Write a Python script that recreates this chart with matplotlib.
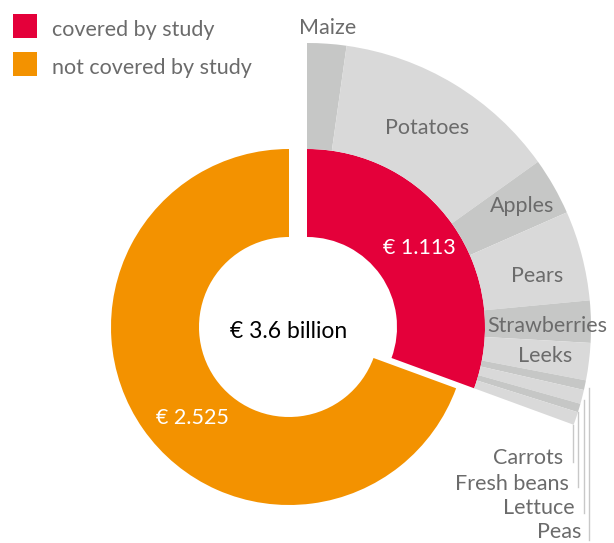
import matplotlib
matplotlib.use("Agg")
import matplotlib.pyplot as plt

plt.rcParams['font.family'] = ['Lato', 'DejaVu Sans']

# values in € million
segments = ['covered by study', 'not covered by study']
segment_values = [1113, 2525]
total_label = '€ 3.6 billion'

crops = ['Maize', 'Potatoes', 'Apples', 'Pears', 'Strawberries', 'Leeks',
         'Carrots', 'Fresh beans', 'Lettuce', 'Peas']
crop_values = [81, 469, 119, 186, 87, 77, 20, 29, 18, 27]

RED = '#E4003A'
ORANGE = '#F39200'
LIGHT = '#D9D9D9'
DARK = '#C6C7C6'
TXT = '#6B6B6B'

W, H = 614, 543
fig = plt.figure(figsize=(W / 100, H / 100), dpi=100)
ax = fig.add_axes([0, 0, 1, 1])

cx, cy = 289, H - 327
shift = 18
r_in, r_out, r_ring = 178, 90, 284
total = sum(segment_values)

wedges, _ = ax.pie(segment_values, colors=[RED, ORANGE], startangle=90,
                   counterclock=False, radius=r_in, center=(cx, cy),
                   wedgeprops=dict(width=r_in - r_out, linewidth=0))
wedges[0].set_center((cx + shift, cy))

crop_colors = [DARK if i % 2 == 0 else LIGHT for i in range(len(crops))]
ax.pie([v / total for v in crop_values], colors=crop_colors, startangle=90,
       counterclock=False, radius=r_ring, center=(cx + shift, cy),
       normalize=False, wedgeprops=dict(width=r_ring - r_in, linewidth=0))

ax.set_xlim(0, W)
ax.set_ylim(0, H)
ax.set_aspect('equal')
ax.axis('off')

def px(x, y):
    # pixel position (y down) -> data, small nudge for text baseline
    return x, H - y - 1.5

fs = 15.5
ax.text(*px(289, 330), total_label, ha='center', va='center', fontsize=16.5, color='black')
ax.text(*px(419, 246), '€ ' + f"{segment_values[0] / 1000:.3f}", ha='center', va='center',
        fontsize=fs, color='white')
ax.text(*px(192, 417), '€ ' + f"{segment_values[1] / 1000:.3f}", ha='center', va='center',
        fontsize=fs, color='white')

# crop labels inside / around the ring
inside = {'Maize': (328, 27), 'Potatoes': (427, 127), 'Apples': (522, 204),
          'Pears': (537, 274), 'Strawberries': (547, 324), 'Leeks': (545, 354)}
for name, (x, y) in inside.items():
    ax.text(*px(x, y), name, ha='center', va='center', fontsize=fs, color=TXT)

small = {'Carrots': (563, 456, 573, 425, 462),
         'Fresh beans': (569, 482, 578, 412, 487),
         'Lettuce': (575, 507, 584, 400, 513),
         'Peas': (581, 530, 589, 388, 540)}
for name, (tx, ty, lx, y0, y1) in small.items():
    ax.text(*px(tx, ty), name, ha='right', va='center', fontsize=fs, color=TXT)
    ax.plot([lx, lx], [H - y0, H - y1], color='#C8C8C8', linewidth=1)

# legend
for (y, col, lab) in [(26, RED, segments[0]), (64, ORANGE, segments[1])]:
    ax.add_patch(plt.Rectangle((13, H - y - 12), 24, 24, color=col, linewidth=0))
    ax.text(*px(52, y + 2), lab, ha='left', va='center', fontsize=fs, color=TXT)

fig.savefig('out.png', dpi=100)
